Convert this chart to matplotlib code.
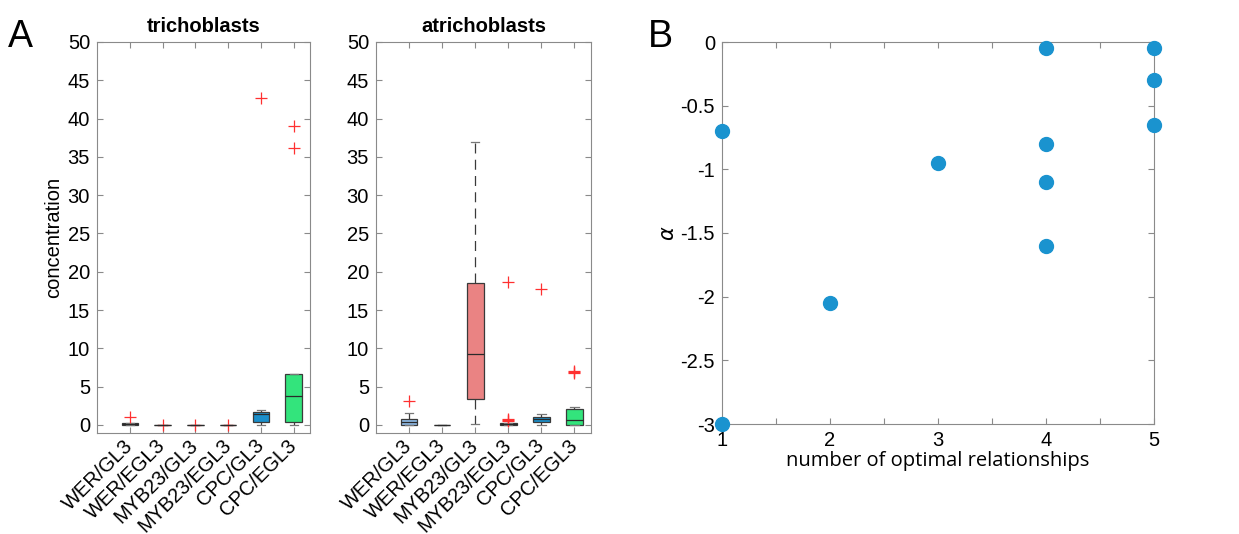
import matplotlib.pyplot as plt
import numpy as np

plt.rcParams['font.family'] = ['Liberation Sans', 'DejaVu Sans']

labels = ['WER/GL3', 'WER/EGL3', 'MYB23/GL3', 'MYB23/EGL3', 'CPC/GL3', 'CPC/EGL3']

# box summaries for trichoblasts
tri_whislo = [0.0, 0.0, 0.0, 0.0, 0.0, 0.0]
tri_q1 = [0.02, 0.0, 0.0, 0.0, 0.43, 0.35]
tri_med = [0.15, 0.0, 0.0, 0.0, 1.43, 3.8]
tri_q3 = [0.28, 0.0, 0.0, 0.0, 1.74, 6.6]
tri_whishi = [0.32, 0.0, 0.0, 0.0, 2.0, 6.6]
tri_fliers = [[1.0], [0.0], [0.0], [0.0], [42.7], [39.0, 36.1]]
tri_colors = ['#8db8e4', '#7a1f1f', '#555555', '#555555', '#1b8fcb', '#33e47c']

# box summaries for atrichoblasts
atr_whislo = [0.04, 0.0, 0.13, 0.0, 0.04, 0.0]
atr_q1 = [0.04, 0.0, 3.35, 0.0, 0.39, 0.0]
atr_med = [0.43, 0.0, 9.3, 0.1, 0.74, 0.6]
atr_q3 = [0.74, 0.0, 18.5, 0.25, 1.09, 2.13]
atr_whishi = [1.57, 0.0, 36.9, 0.3, 1.39, 2.4]
atr_fliers = [[3.1], [], [], [0.75, 0.65, 0.55, 18.6], [17.7], [7.0, 6.9, 6.8]]
atr_colors = ['#8db8e4', '#777777', '#ea8383', '#5e6232', '#1b8fcb', '#33e47c']

# panel B
n_opt = [1, 1, 2, 3, 4, 4, 4, 4, 5, 5, 5]
alpha_vals = [-0.7, -3.0, -2.05, -0.95, -0.05, -0.8, -1.1, -1.6, -0.05, -0.3, -0.65]

W, H = 1239, 534
fig = plt.figure(figsize=(W / 100, H / 100), dpi=100)

spine_col = '#8a8a8a'


def px_axes(x0, y0, x1, y1):
    return fig.add_axes([x0 / W, 1 - y1 / H, (x1 - x0) / W, (y1 - y0) / H])


def box_panel(ax, title, whislo, q1, med, q3, whishi, fliers, colors):
    stats = []
    for i in range(len(labels)):
        stats.append(dict(whislo=whislo[i], q1=q1[i], med=med[i], q3=q3[i],
                          whishi=whishi[i], fliers=fliers[i], label=labels[i]))
    res = ax.bxp(stats, positions=np.arange(1, 7), widths=0.5, patch_artist=True,
                 boxprops=dict(edgecolor='#3a3a3a', linewidth=0.9),
                 medianprops=dict(color='#2a2a2a', linewidth=0.9),
                 whiskerprops=dict(color='#3a3a3a', linewidth=0.9, linestyle=(0, (8, 5))),
                 capprops=dict(color='#777777', linewidth=0.9),
                 flierprops=dict(marker='+', markeredgecolor='#ff3030', markersize=8,
                                 markeredgewidth=0.9, linestyle='none'),
                 capwidths=0.25)
    for patch, c in zip(res['boxes'], colors):
        patch.set_facecolor(c)
    ax.set_xlim(0, 6.5)
    ax.set_ylim(-1.05, 50)
    ax.set_yticks(np.arange(0, 51, 5))
    ax.set_xticks(np.arange(1, 7))
    ax.set_xticklabels(labels, rotation=45, ha='right', va='center',
                       rotation_mode='anchor', fontsize=13)
    ax.tick_params(direction='in', top=True, right=True, labelsize=14.5, color=spine_col,
                   length=4, pad=5)
    ax.tick_params(axis='x', pad=7)
    for s in ax.spines.values():
        s.set_color(spine_col)
    ax.set_title(title, fontsize=14.5, fontweight='bold', pad=7)


ax1 = px_axes(97, 42, 310, 433)
box_panel(ax1, 'trichoblasts', tri_whislo, tri_q1, tri_med, tri_q3, tri_whishi,
          tri_fliers, tri_colors)
ax1.set_ylabel('concentration', fontsize=14.5, labelpad=3)

ax2 = px_axes(376, 42, 591, 433)
box_panel(ax2, 'atrichoblasts', atr_whislo, atr_q1, atr_med, atr_q3, atr_whishi,
          atr_fliers, atr_colors)

ax3 = px_axes(722, 42, 1154, 424)
ax3.plot(n_opt, alpha_vals, 'o', color='#1a93cf', markersize=10, clip_on=False, zorder=5)
ax3.set_xlim(1, 5)
ax3.set_ylim(-3, 0)
ax3.set_xticks(np.arange(1, 5.01, 0.5))
ax3.set_xticklabels(['1', '', '2', '', '3', '', '4', '', '5'])
ax3.set_yticks(np.arange(-3, 0.01, 0.5))
ax3.set_yticklabels(['-3', '-2.5', '-2', '-1.5', '-1', '-0.5', '0'])
ax3.tick_params(direction='in', top=True, right=True, labelsize=14.5, color=spine_col,
                length=4, pad=5)
for s in ax3.spines.values():
    s.set_color(spine_col)
ax3.set_xlabel('number of optimal relationships', fontsize=14.5, family='Open Sans',
               labelpad=1)
ax3.set_ylabel(r'$\alpha$', fontsize=15, labelpad=2)

fig.text(8 / W, 1 - 47 / H, 'A', fontsize=27, family='Liberation Sans')
fig.text(648 / W, 1 - 47 / H, 'B', fontsize=27, family='Liberation Sans')

fig.savefig('out.png', dpi=100)
